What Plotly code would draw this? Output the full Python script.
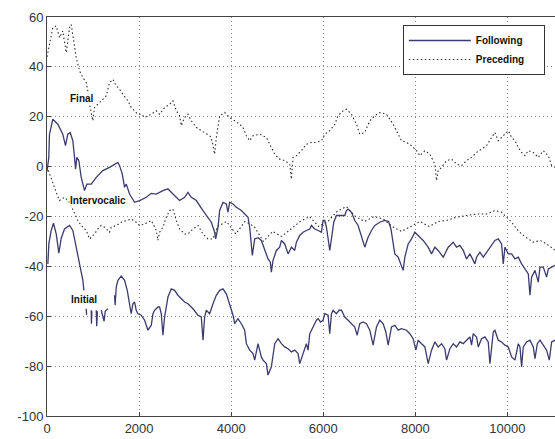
import plotly.graph_objects as go

# ---------------- data ----------------
final_prec_x = [0, 54, 126, 200, 272, 343, 380, 417, 452, 489, 526, 561, 598, 634, 707, 779, 852, 887, 924,
                960, 996, 1033, 1105, 1213, 1287, 1359, 1430, 1504, 1576, 1648, 1757, 1830, 1902, 1974, 2047,
                2120, 2265, 2374, 2446, 2554, 2663, 2735, 2808, 2880, 2917, 2989, 3061, 3134, 3243, 3352, 3496,
                3560, 3600, 3640, 3680, 3750, 3859, 3967, 4076, 4185, 4257, 4330, 4402, 4475, 4620, 4764, 4873,
                4946, 5054, 5163, 5272, 5308, 5344, 5417, 5525, 5634, 5743, 5851, 5960, 6033, 6141, 6250, 6322,
                6431, 6504, 6612, 6721, 6793, 6902, 7011, 7120, 7228, 7374, 7518, 7627, 7699, 7808, 7917, 8026,
                8098, 8207, 8315, 8424, 8460, 8496, 8569, 8678, 8787, 8895, 9004, 9112, 9221, 9330, 9438, 9547,
                9656, 9728, 9801, 9873, 9946, 10018, 10091, 10163, 10236, 10308, 10380, 10453, 10561, 10670,
                10779, 10888, 10960, 11033]
final_prec_y = [44, 49.7, 55.7, 56.4, 51.7, 54.4, 49, 45.7, 50.4, 55.7, 57, 53, 49, 43.7, 38.4, 35.7, 33.7, 30.4, 25,
                21, 18.4, 23.7, 25, 27, 28.4, 33.7, 35, 32.4, 31, 29, 26.4, 23.7, 22.4, 21, 21,
                19.7, 21, 22.4, 21, 23.7, 25, 26.4, 22.4, 20.4, 16.4, 19.7, 21, 18.4, 15.7, 14.4, 13,
                12, 9, 5, 12, 20.4, 21.7, 19.7, 18.4, 17, 15.7, 12.4, 10.4, 12.4, 13, 11.7, 7.7,
                5, 3, 2.4, 1, -5, 3.7, 4.4, 6.4, 9, 9.7, 9.7, 10.4, 13, 14.4, 17, 20.4,
                22.4, 23, 21, 17, 13, 13.7, 18.4, 20.4, 21.7, 21, 17, 13, 10.4, 9.7, 8.4, 6.4,
                4.4, 6.4, 5, 1, -5.6, -1.6, -0.3, 2.4, 3, 1, 0.4, 2.4, 3.7, 5.7, 7, 8.4,
                11.7, 13.7, 10.4, 11.7, 13, 14.4, 11.7, 10.4, 7.7, 5.7, 4.4, 6.4, 5.7, 3.7,
                6.4, 4.4, 0.4, -0.3]

interv_foll_x = [0, 39, 54, 126, 235, 343, 402, 452, 504, 561, 598, 620, 648, 691, 743, 815, 866, 960, 1069,
                 1213, 1359, 1504, 1540, 1576, 1634, 1685, 1722, 1793, 1902, 2011, 2157, 2265, 2374, 2517, 2626,
                 2735, 2880, 2989, 3061, 3134, 3243, 3387, 3496, 3569, 3641, 3663, 3714, 3750, 3822, 3895, 3931,
                 3967, 4040, 4112, 4221, 4293, 4366, 4402, 4438, 4460, 4511, 4583, 4655, 4707, 4764, 4800, 4851,
                 4873, 4909, 4982, 5054, 5091, 5163, 5236, 5272, 5308, 5380, 5417, 5489, 5562, 5634, 5707, 5743,
                 5815, 5888, 5960, 5996, 6033, 6069, 6105, 6141, 6178, 6228, 6286, 6395, 6467, 6504, 6540, 6612,
                 6685, 6757, 6830, 6902, 6974, 7047, 7120, 7228, 7337, 7420, 7470, 7518, 7554, 7627, 7735, 7772,
                 7844, 7917, 7989, 8061, 8170, 8279, 8351, 8424, 8496, 8605, 8641, 8714, 8822, 8895, 8967, 9040,
                 9112, 9185, 9257, 9293, 9330, 9402, 9475, 9547, 9656, 9728, 9801, 9873, 9909, 9946, 10018, 10091,
                 10163, 10236, 10308, 10380, 10453, 10489, 10525, 10598, 10670, 10707, 10779, 10851, 10888,
                 10960, 11033]
interv_foll_y = [-2, 3.7, 13, 19, 17, 13, 8.4, 13, 13.7, 10.4, 3.7, -1, 3.7, 2.4, -4.3, -9.6, -7, -7, -4.3,
                 -1.6, -0.3, 1.1, 1.7, 0.4, -2.9, -8.3, -7, -11, -14.3, -13.6, -12.3, -10.7, -11, -9.6, -8.9,
                 -11, -13.6, -12.3, -10.3, -12.3, -13.6, -17.6, -20.3, -22.3, -26.3, -29, -24.3, -17.6, -14.3, -15, -18.3,
                 -14.3, -15, -16.3, -17.6, -19, -20.3, -24.3, -31, -35.6, -29, -28.5, -29.6, -32.3, -35.6, -37, -38.3,
                 -42.3, -37.6, -33.6, -32.3, -29.6, -31, -35, -33.6, -32.3, -33.6, -30.3, -27.6, -26.3, -25.6, -25, -23.6,
                 -25, -25.6, -26.3, -21.6, -21.6, -24.3, -29, -33.6, -29, -22.3, -19.6, -19.6, -19.6, -17.6, -17, -18.3,
                 -21.6, -23.6, -27.6, -32.3, -28.3, -25.6, -23.6, -22.3, -21.6, -22, -25, -30.9, -35, -36.3, -41.6, -36.3,
                 -31, -29, -26.3, -27.6, -29.6, -32.3, -35, -32.3, -33.6, -36.3, -35, -32.3, -30.3, -32.3, -31.6, -33.6,
                 -37, -35, -37.6, -39, -36.3, -34.3, -36.3, -34.3, -31.6, -29.6, -29, -31, -39, -32.3, -35, -35,
                 -37, -36.3, -39, -41, -43, -51.6, -44.3, -41.6, -46.3, -40.3, -40.3, -44.3, -41,
                 -40.3, -39.6]

interv_prec_x = [0, 54, 126, 200, 272, 380, 489, 670, 743, 852, 924, 1033, 1105, 1178, 1250, 1359, 1395, 1504,
                 1612, 1721, 1830, 1938, 2011, 2120, 2265, 2374, 2409, 2446, 2518, 2591, 2663, 2735, 2808, 2880,
                 2989, 3061, 3170, 3279, 3387, 3496, 3605, 3700, 3900, 4100, 4300, 4500, 4700, 4900, 5100, 5300,
                 5500, 5700, 5900, 6100, 6300, 6500, 6700, 6900, 7100, 7300, 7500, 7700, 7900, 8100, 8300, 8500,
                 8678, 8895, 9112, 9330, 9547, 9728, 9873, 9982, 10091, 10200, 10308, 10453, 10561, 10707, 10851,
                 10996, 11033]
interv_prec_y = [0, -3, -7, -10.3, -13.6, -12.3, -14.3, -21.6, -23.6, -25.6, -29, -27, -25, -23.6, -24.3, -26.3, -24.3, -23.6,
                 -22.3, -21.6, -21, -22.3, -23.6, -23, -21.6, -25.6, -29.6, -26.3, -24.3, -20.3, -17.6, -17, -21.6, -25,
                 -27, -27, -25, -23.6, -27, -29, -29, -24, -22, -27, -22, -24, -30, -26, -28, -25,
                 -22, -20, -24, -22, -18, -16, -20, -22, -20, -21, -24, -26, -24, -22, -24, -22,
                 -21.6, -20.3, -19.6, -19, -19, -17.6, -18.3, -20.3, -22.3, -25, -27, -29, -30.3, -29.6, -31,
                 -33, -33.5]

init_foll_x = [18, 40, 91, 141, 200, 257, 309, 380, 489, 561, 634, 707, 779, 801, None,
               852, 860, None, 960, 965, 975, None, 1069, 1080, 1095, None,
               1178, 1210, 1240, 1265, 1287, 1322, None,
               1467, 1480, 1504, 1540, 1612, 1685, 1743, 1793, 1829, 1866, 1902, 1938, 1975, 2047, 2120, 2192,
               2265, 2301, 2337, 2409, 2446, 2482, 2518, 2554, 2627, 2699, 2772, 2844, 2917, 2989, 3061, 3170,
               3279, 3351, 3388, 3424, 3460, 3533, 3605, 3677, 3750, 3822, 3895, 3967, 4040, 4076, 4148, 4221,
               4293, 4330, 4402, 4475, 4511, 4583, 4655, 4692, 4764, 4800, 4873, 4946, 5018, 5091, 5163, 5236,
               5308, 5380, 5453, 5489, 5562, 5634, 5670, 5707, 5779, 5851, 5888, 5939, 5996, 6033, 6105, 6141,
               6178, 6214, 6286, 6344, 6395, 6467, 6540, 6612, 6685, 6736, 6793, 6866, 6938, 7011, 7083, 7156,
               7228, 7301, 7359, 7409, 7482, 7554, 7627, 7699, 7808, 7880, 7952, 8011, 8061, 8134, 8207, 8279,
               8351, 8424, 8496, 8569, 8641, 8678, 8750, 8822, 8895, 8967, 9040, 9112, 9185, 9221, 9257, 9330,
               9366, 9438, 9511, 9583, 9620, 9692, 9728, 9801, 9873, 9946, 10018, 10091, 10163, 10236, 10272,
               10308, 10344, 10417, 10489, 10561, 10598, 10649, 10707, 10779, 10851, 10909, 10960, 11033]
init_foll_y = [-39, -31, -25.6, -22.7, -27, -34.7, -28.7, -25, -23.6, -25.6, -32.3, -39, -45.6, -49.6, None,
               -57, -59.5, None, -57.6, -63, -58, None, -57.6, -64, -58, None,
               -57.6, -60, -62, -58, -57.6, -57, None,
               -51.6, -55.6, -48.3, -45.6, -43.9, -45.6, -49.6, -56.3, -59, -55, -54.3, -57.6, -59, -59.6, -61.6, -65.6,
               -63.6, -59, -57.6, -56.3, -56.3, -59, -67.6, -60.3, -52.3, -49, -49.6, -51.6, -53, -54.3, -55, -57,
               -59.6, -60.3, -69.6, -60.3, -57.6, -59, -55, -51.6, -49.6, -49, -51, -55.6, -59.6, -63, -61, -63,
               -65.6, -71, -73.6, -75, -77.6, -71, -76.3, -77.6, -79, -83.6, -80.3, -71, -69, -71, -72.3, -73,
               -74.3, -73.6, -75, -79, -75, -71, -73.6, -67, -64.3, -61.6, -61, -62.3, -61.6, -59, -59.6, -67,
               -59, -57.6, -59, -57.6, -57.6, -60.3, -61.6, -63, -64.3, -67.6, -63, -62.3, -63, -65.6, -71.6, -64.3,
               -61.6, -63, -66.3, -71.6, -64.3, -63.6, -65.6, -65, -65.6, -67, -69, -73.6, -69.6, -71, -72.3, -79,
               -73.6, -70.3, -72.3, -71, -73, -77.6, -73, -71, -72.3, -70.3, -71, -69.6, -68.3, -71.6, -67, -68.3,
               -72.3, -69, -68.3, -70.3, -79, -66.3, -65.6, -69.6, -70.3, -71.6, -72.3, -76.3, -77.6, -71, -72.3,
               -80.3, -72.3, -70.3, -69.6, -72.3, -77, -71, -69.6, -71.6, -73.6, -77.6, -70.3, -69.6]

context_labels = ["Final", "Intervocalic", "Initial"]
label_x = [750, 1098, 793]
label_y = [27.2, -13.6, -53.2]

x_ticks = [0, 2000, 4000, 6000, 8000, 10000]
y_ticks = [-100, -80, -60, -40, -20, 0, 20, 40, 60]

# ---------------- figure ----------------
SOLID = "#3b3b70"
DOT = "#2a2a2a"
PAD = "\u00a0" * 5

fig = go.Figure()
fig.add_trace(go.Scatter(x=init_foll_x, y=init_foll_y, mode="lines", name="<b>Following</b>" + PAD,
                         line=dict(color=SOLID, width=1.3), connectgaps=False, showlegend=True))
fig.add_trace(go.Scatter(x=final_prec_x, y=final_prec_y, mode="lines", name="<b>Preceding</b>" + PAD,
                         line=dict(color=DOT, width=1.1, dash="1.5px,2.5px"), showlegend=True))
fig.add_trace(go.Scatter(x=interv_foll_x, y=interv_foll_y, mode="lines", name="Following",
                         line=dict(color=SOLID, width=1.3), showlegend=False))
fig.add_trace(go.Scatter(x=interv_prec_x, y=interv_prec_y, mode="lines", name="Preceding",
                         line=dict(color=DOT, width=1.1, dash="1.5px,2.5px"), showlegend=False))

for t, lx, ly in zip(context_labels, label_x, label_y):
    fig.add_annotation(x=lx, y=ly, text="<b>%s</b>" % t, showarrow=False,
                       font=dict(family="Liberation Sans, Arial, sans-serif", size=10, color="#111111"),
                       bgcolor="rgba(255,255,255,0.85)", borderpad=0)

axis_font = dict(family="Liberation Sans, Arial, sans-serif", size=13, color="#333333")
grid_style = dict(showgrid=True, gridcolor="#8a8a8a", griddash="1px,3px", gridwidth=1)
fig.update_layout(
    width=555, height=439,
    margin=dict(l=47, r=0, t=17, b=23),
    paper_bgcolor="white", plot_bgcolor="white",
    showlegend=True,
    legend=dict(x=0.98, y=0.98, xanchor="right", yanchor="top",
                bgcolor="white", bordercolor="#333333", borderwidth=1,
                font=dict(family="Liberation Sans, Arial, sans-serif", size=10, color="#111111"),
                itemwidth=62, tracegroupgap=0),
    xaxis=dict(range=[0, 11033], tickvals=x_ticks, ticktext=[str(v) for v in x_ticks],
               showline=True, linecolor="#444444", linewidth=1, mirror=True,
               ticks="inside", ticklen=4, tickcolor="#444444", tickfont=axis_font,
               zeroline=False, **grid_style),
    yaxis=dict(range=[-100, 60], tickvals=y_ticks, ticktext=[str(v) for v in y_ticks],
               showline=True, linecolor="#444444", linewidth=1, mirror=False,
               ticks="inside", ticklen=4, tickcolor="#444444", tickfont=axis_font,
               zeroline=False, **grid_style),
)

fig.write_html("out.html", config={"displayModeBar": False},
               post_script="document.body.style.margin='0px';document.body.style.padding='0px';")
